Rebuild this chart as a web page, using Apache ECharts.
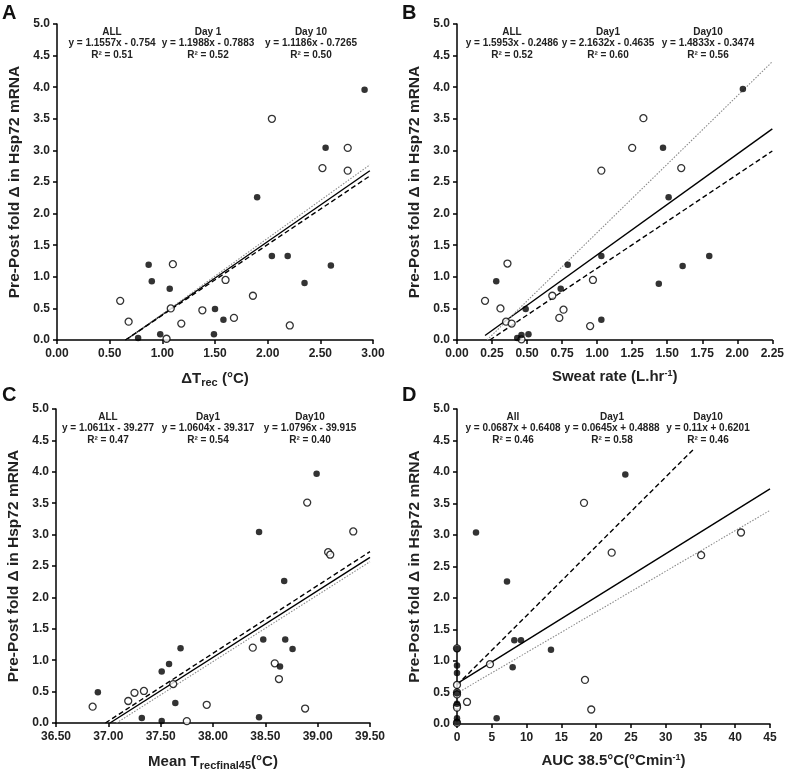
<!DOCTYPE html>
<html><head><meta charset="utf-8">
<script src="https://cdn.jsdelivr.net/npm/echarts@6/dist/echarts.min.js"></script>
<style>html,body{margin:0;padding:0;background:#fff}#c{width:787px;height:772px}</style>
</head><body><div id="c"></div>
<script>
// ---- Data ----
// Panel A: ΔTrec
const aDay1X  = [0.60,0.68,1.04,1.08,1.10,1.18,1.38,1.60,1.68,1.86,2.21,2.04,2.52,2.76,2.76];
const aDay1Y  = [0.62,0.29,0.02,0.50,1.20,0.26,0.47,0.95,0.35,0.70,0.23,3.50,2.72,3.04,2.68];
const aDay10X = [0.77,0.87,0.90,0.98,1.07,1.50,1.49,1.58,1.90,2.04,2.19,2.35,2.60,2.55,2.92];
const aDay10Y = [0.03,1.19,0.93,0.09,0.81,0.49,0.09,0.32,2.26,1.33,1.33,0.90,1.18,3.04,3.96];
// Panel B: Sweat rate
const bDay1X  = [0.20,0.31,0.35,0.36,0.39,0.46,0.68,0.73,0.76,0.95,0.97,1.03,1.25,1.33,1.60];
const bDay1Y  = [0.62,0.50,0.29,1.21,0.26,0.01,0.70,0.35,0.48,0.22,0.95,2.68,3.04,3.51,2.72];
const bDay10X = [0.28,0.43,0.46,0.49,0.51,0.74,0.79,1.03,1.03,1.44,1.51,1.61,1.80,1.47,2.04];
const bDay10Y = [0.93,0.03,0.08,0.49,0.09,0.81,1.19,1.33,0.32,0.89,2.26,1.17,1.33,3.04,3.97];
// Panel C: Mean Trec final 45
const cDay1X  = [36.85,37.19,37.25,37.34,37.62,37.75,37.94,38.38,38.59,38.63,38.88,38.90,39.10,39.12,39.34];
const cDay1Y  = [0.26,0.35,0.48,0.51,0.62,0.03,0.29,1.20,0.95,0.70,0.23,3.51,2.72,2.68,3.05];
const cDay10X = [36.90,37.32,37.51,37.51,37.58,37.64,37.69,38.44,38.48,38.64,38.68,38.69,38.76,38.44,38.99];
const cDay10Y = [0.49,0.08,0.82,0.03,0.94,0.32,1.19,0.09,1.33,0.90,2.26,1.33,1.18,3.04,3.97];
// Panel D: AUC 38.5°C
const dDay1X  = [0,0,0,0,0,0,0,4.74,1.44,18.4,19.3,18.26,22.24,35.1,40.83];
const dDay1Y  = [0.62,0.29,0.02,0.50,1.20,0.26,0.47,0.95,0.35,0.70,0.23,3.51,2.72,2.68,3.04];
const dDay10X = [0,0,0,0,0,0,0,5.7,7.19,8.0,8.24,9.2,13.51,2.73,24.2];
const dDay10Y = [0.03,1.19,0.93,0.09,0.81,0.49,0.32,0.09,2.26,0.90,1.33,1.33,1.18,3.04,3.96];

// Regression lines: order [ALL, Day1, Day10]
const fitNames = ['ALL','Day1','Day10'];
const aSlope = [1.1557,1.1988,1.1186], aIcpt = [-0.754,-0.7883,-0.7265], aXRange = [[0.5,2.97],[0.5,2.97],[0.5,2.97]];
const bSlope = [1.5953,2.1632,1.4833], bIcpt = [-0.2486,-0.4635,-0.3474], bXRange = [[0.2,2.25],[0.2,2.25],[0.2,2.25]];
const cSlope = [1.0611,1.0604,1.0796], cIcpt = [-39.277,-39.317,-39.915], cXRange = [[36.8,39.5],[36.8,39.5],[36.8,39.5]];
const dSlope = [0.0687,0.0645,0.11],   dIcpt = [0.6408,0.4888,0.6201],   dXRange = [[0,45],[0,45],[0,34]];

// Annotation texts
const aHead = ['ALL','Day 1','Day 10'];
const aEq = ['y = 1.1557x - 0.754','y = 1.1988x - 0.7883','y = 1.1186x - 0.7265'];
const aR2 = ['R² = 0.51','R² = 0.52','R² = 0.50'];
const bHead = ['ALL','Day1','Day10'];
const bEq = ['y = 1.5953x - 0.2486','y = 2.1632x - 0.4635','y = 1.4833x - 0.3474'];
const bR2 = ['R² = 0.52','R² = 0.60','R² = 0.56'];
const cHead = ['ALL','Day1','Day10'];
const cEq = ['y = 1.0611x - 39.277','y = 1.0604x - 39.317','y = 1.0796x - 39.915'];
const cR2 = ['R² = 0.47','R² = 0.54','R² = 0.40'];
const dHead = ['All','Day1','Day10'];
const dEq = ['y = 0.0687x + 0.6408','y = 0.0645x + 0.4888','y = 0.11x + 0.6201'];
const dR2 = ['R² = 0.46','R² = 0.58','R² = 0.46'];

// ---- Layout ----
const FONT = '"Liberation Sans", Arial, Helvetica, sans-serif';
const grids = [
  {left:57, top:24, width:316, height:316},
  {left:457, top:24, width:317, height:316},
  {left:56, top:409, width:314, height:315},
  {left:457, top:409, width:313, height:315}
];
const xCfg = [
  {min:0, max:3, interval:0.5, dec:2, name:'ΔT{sub|rec} (°C)'},
  {min:0, max:2.25, interval:0.25, dec:2, name:'Sweat rate (L.hr{sup|-1})'},
  {min:36.5, max:39.5, interval:0.5, dec:2, name:'Mean T{sub|recfinal45}(°C)'},
  {min:0, max:45, interval:5, dec:0, name:'AUC 38.5°C(°Cmin{sup|-1})'}
];
const annoX = [[112,208,311],[512,608,708],[108,208,310],[513,612,708]];
const annoY = [26,411];
const letters = [['A',2,3],['B',402,3],['C',2,385],['D',402,385]];

const panels = [
  {d1x:aDay1X,d1y:aDay1Y,d10x:aDay10X,d10y:aDay10Y,s:aSlope,b:aIcpt,r:aXRange,h:aHead,e:aEq,r2:aR2},
  {d1x:bDay1X,d1y:bDay1Y,d10x:bDay10X,d10y:bDay10Y,s:bSlope,b:bIcpt,r:bXRange,h:bHead,e:bEq,r2:bR2},
  {d1x:cDay1X,d1y:cDay1Y,d10x:cDay10X,d10y:cDay10Y,s:cSlope,b:cIcpt,r:cXRange,h:cHead,e:cEq,r2:cR2},
  {d1x:dDay1X,d1y:dDay1Y,d10x:dDay10X,d10y:dDay10Y,s:dSlope,b:dIcpt,r:dXRange,h:dHead,e:dEq,r2:dR2}
];

const axisLine = {show:true, lineStyle:{color:'#000', width:1.5}};
const axisTick = {show:true, inside:false, length:4, lineStyle:{color:'#000', width:1.5}};
const labelStyle = {color:'#222', fontFamily:FONT, fontWeight:'bold', fontSize:12};

const xAxis = [], yAxis = [], series = [], graphic = [];
const lineStyles = [
  {color:'#000', width:1.4, type:'solid'},
  {color:'#8a8a8a', width:1.1, type:[1.5,1.5]},
  {color:'#000', width:1.4, type:[5,3]}
];
panels.forEach((p, i) => {
  const xc = xCfg[i];
  xAxis.push({
    type:'value', gridIndex:i, min:xc.min, max:xc.max, interval:xc.interval,
    splitLine:{show:false}, axisLine, axisTick,
    axisLabel:Object.assign({margin:8, formatter:v => v.toFixed(xc.dec)}, labelStyle),
    name:xc.name, nameLocation:'middle', nameGap:29,
    nameTextStyle:{color:'#222', fontFamily:FONT, fontWeight:'bold', fontSize:15,
      rich:{
        sub:{fontFamily:FONT, fontWeight:'bold', fontSize:11, color:'#222', verticalAlign:'bottom', padding:[8,0,0,0]},
        sup:{fontFamily:FONT, fontWeight:'bold', fontSize:9, color:'#222', verticalAlign:'top', padding:[0,0,7,0]}
      }}
  });
  yAxis.push({
    type:'value', gridIndex:i, min:0, max:5, interval:0.5,
    splitLine:{show:false}, axisLine, axisTick,
    axisLabel:Object.assign({margin:7, formatter:v => v.toFixed(1)}, labelStyle),
    name:'Pre-Post fold Δ in Hsp72 mRNA', nameLocation:'middle', nameGap:34,
    nameTextStyle:{color:'#222', fontFamily:FONT, fontWeight:'bold', fontSize:15.5}
  });
  // regression lines
  p.s.forEach((m, k) => {
    const x0 = Math.max(p.r[k][0], -p.b[k]/m);
    const x1 = p.r[k][1];
    series.push({
      type:'line', name:fitNames[k], xAxisIndex:i, yAxisIndex:i, symbol:'none', silent:true,
      data:[[x0, m*x0+p.b[k]],[x1, m*x1+p.b[k]]], lineStyle:lineStyles[k], z:3, clip:true
    });
  });
  series.push({
    type:'scatter', name:'Day1', xAxisIndex:i, yAxisIndex:i, symbol:'circle', symbolSize:7,
    itemStyle:{color:'#fff', borderColor:'#000', borderWidth:1.3}, z:4, clip:false,
    data:p.d1x.map((x, j) => [x, p.d1y[j]])
  });
  series.push({
    type:'scatter', name:'Day10', xAxisIndex:i, yAxisIndex:i, symbol:'circle', symbolSize:6.5,
    itemStyle:{color:'#000'}, z:5, clip:false,
    data:p.d10x.map((x, j) => [x, p.d10y[j]])
  });
  // annotations
  const ty = annoY[i < 2 ? 0 : 1];
  for (let k = 0; k < 3; k++) {
    graphic.push({
      type:'text', x:annoX[i][k], y:ty, z:10,
      style:{text:p.h[k] + '\n' + p.e[k] + '\n' + p.r2[k], x:0, y:0, align:'center', verticalAlign:'top',
        font:'bold 10px ' + FONT, fill:'#222', lineHeight:11.5}
    });
  }
});
letters.forEach(l => graphic.push({type:'text', left:l[1], top:l[2], z:10,
  style:{text:l[0], font:'bold 20px ' + FONT, fill:'#111'}}));

const chart = echarts.init(document.getElementById('c'), null, {renderer:'canvas'});
chart.setOption({
  animation:false,
  backgroundColor:'#fff',
  grid:grids.map(g => Object.assign({containLabel:false}, g)),
  xAxis, yAxis, series, graphic
});
</script>
</body></html>
